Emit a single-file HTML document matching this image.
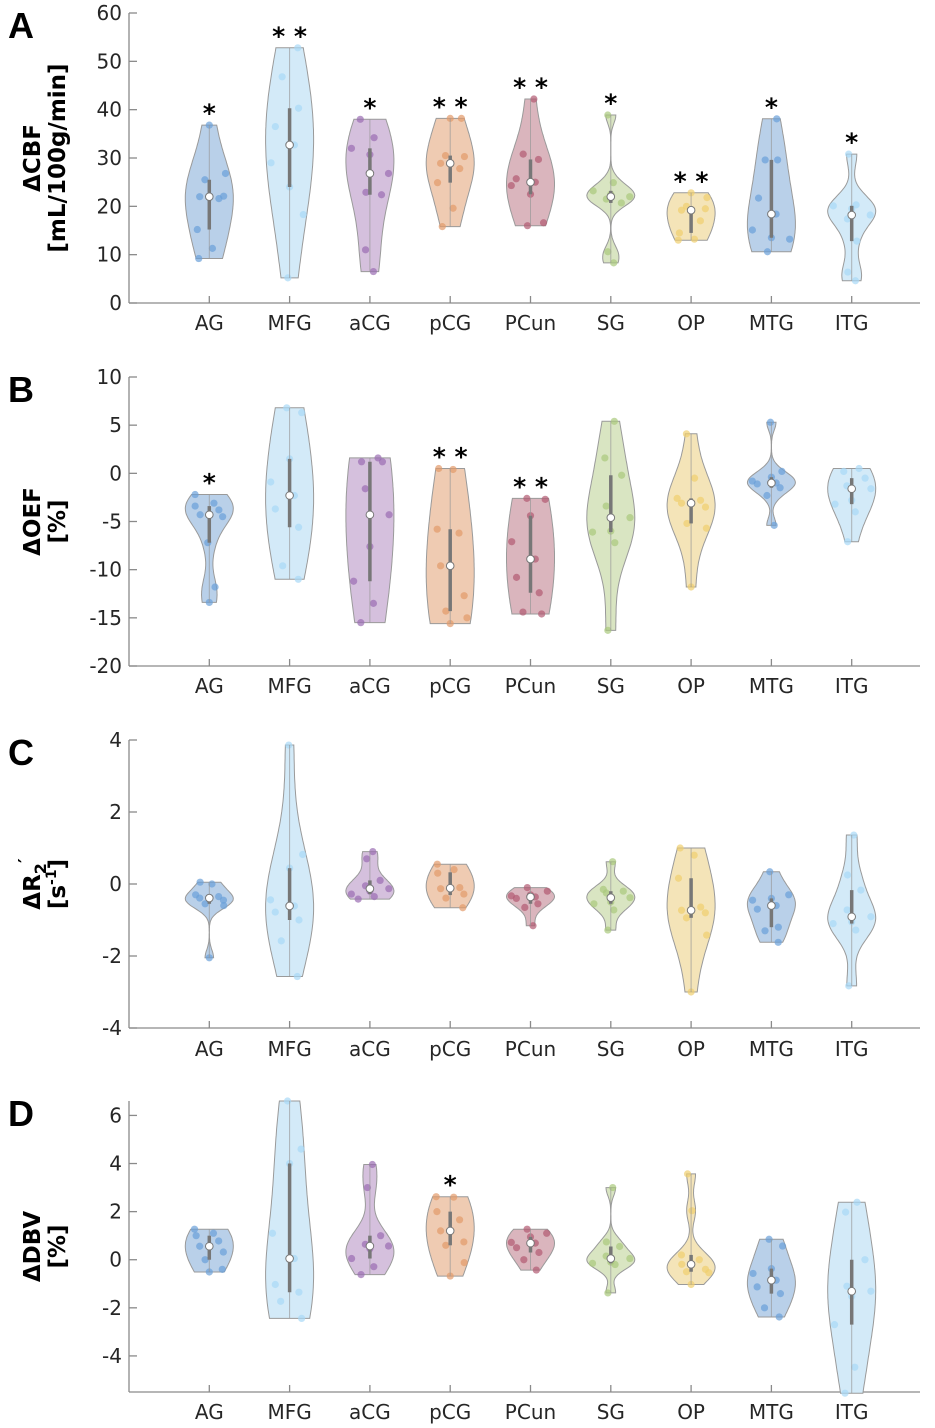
<!DOCTYPE html>
<html><head><meta charset="utf-8"><title>Violin plots</title>
<style>
html,body{margin:0;padding:0;background:#fff;}
svg{display:block;}
text{font-family:"DejaVu Sans","Liberation Sans",sans-serif;}
.tick{font-size:20px;fill:#262626;}
.plab{font-family:"Liberation Sans",sans-serif;font-weight:bold;font-size:36px;fill:#000;}
.ytitle{font-family:"DejaVu Sans","Liberation Sans",sans-serif;font-weight:bold;font-size:23px;fill:#000;}
.star{font-family:"DejaVu Sans",sans-serif;font-weight:bold;font-size:25px;fill:#000;}
</style></head>
<body>
<svg id="fig" width="935" height="1428" viewBox="0 0 935 1428" xmlns="http://www.w3.org/2000/svg"></svg>
<script>
// ---------- data ----------
const categories=["AG","MFG","aCG","pCG","PCun","SG","OP","MTG","ITG"];
const cbfValues=[
 [9.2,11.3,15.2,21.6,22,22.1,25.5,26.8,36.8],
 [5.2,18.3,24,29,32.7,36.5,40.3,46.8,52.8],
 [6.5,11,22.4,22.9,26.8,30.7,32,34.2,38],
 [15.8,19.6,24.9,27.8,28.9,30.3,30.5,38.2,38.2],
 [16,16.6,22.5,24.3,25,25.7,29.7,30.8,42.2],
 [8.3,10.6,20.7,21.5,22,22.5,23.2,24.9,38.9],
 [13,13.2,14.5,17,19.2,19.5,20,21.8,22.8],
 [10.6,13.2,13.5,15.1,18.4,21.7,29.6,29.6,38.1],
 [4.6,6.4,12.8,17.4,18.2,19.5,20.1,20.3,30.8]
];
const oefValues=[
 [-2.2,-3.1,-3.4,-3.8,-4.3,-4.5,-7.2,-11.8,-13.4],
 [6.8,6.3,1.5,-0.9,-2.3,-3.7,-5.6,-9.6,-11],
 [1.6,1.2,1.2,-1.6,-4.3,-7.6,-11.2,-13.5,-15.5],
 [0.5,0.4,-5.8,-6.2,-9.6,-12.7,-14.3,-15,-15.6],
 [-2.6,-2.7,-4.4,-7.1,-8.9,-10.8,-12.4,-14.4,-14.6],
 [5.4,1.6,-0.2,-3.4,-4.6,-6,-6.1,-7.2,-16.3],
 [4.1,-0.5,-2.6,-2.8,-3.1,-3.5,-5.2,-5.7,-11.8],
 [5.3,0.2,-0.4,-0.8,-1.0,-1.1,-1.5,-2.3,-5.4],
 [0.5,0.2,-0.5,-1.3,-1.6,-2.8,-3.2,-4,-7.1]
];
const r2Values=[
 [0.05,0,-0.3,-0.35,-0.39,-0.45,-0.55,-0.6,-2.05],
 [3.86,0.82,0.44,-0.44,-0.61,-0.78,-1,-1.58,-2.57],
 [0.9,0.7,0.1,-0.05,-0.13,-0.2,-0.28,-0.35,-0.42],
 [0.55,0.4,0.3,-0.1,-0.13,-0.28,-0.39,-0.66],
 [-0.1,-0.2,-0.3,-0.33,-0.36,-0.4,-0.55,-0.65,-1.16],
 [0.62,-0.15,-0.2,-0.25,-0.38,-0.5,-0.55,-0.72,-1.28],
 [1.0,0.8,0.16,-0.64,-0.73,-0.8,-0.94,-1.42,-3.0],
 [0.34,-0.3,-0.4,-0.45,-0.6,-0.7,-1.2,-1.3,-1.62],
 [1.36,0.25,-0.17,-0.72,-0.91,-1.05,-1.1,-1.28,-2.83]
];
const dbvValues=[
 [1.27,1.1,1.0,0.78,0.56,0.32,0,-0.4,-0.51],
 [6.6,4.6,4.0,1.1,0.05,-1.03,-1.35,-1.73,-2.44],
 [3.96,3.0,1.0,0.64,0.57,0.46,0.05,-0.29,-0.62],
 [2.62,2.6,2.0,1.66,1.2,0.74,0.6,-0.12,-0.68],
 [1.27,1.1,0.95,0.72,0.69,0.5,0.3,0,-0.43],
 [3.0,0.74,0.55,0.15,0.05,-0.1,-0.15,-0.2,-1.38],
 [3.57,2.04,0.2,0,-0.19,-0.4,-0.5,-0.54,-1.03],
 [0.85,0.57,-0.37,-0.57,-0.85,-1.13,-1.41,-2.0,-2.38],
 [2.39,1.98,0,-1.1,-1.31,-1.52,-2.7,-4.47,-5.55]
];
const sigCBF=[1,2,1,2,2,1,2,1,1];
const sigOEF=[1,0,0,2,2,0,0,0,0];
const sigR2=[0,0,0,0,0,0,0,0,0];
const sigDBV=[0,0,0,1,0,0,0,0,0];
const ticksCBF=[0,10,20,30,40,50,60];
const ticksOEF=[10,5,0,-5,-10,-15,-20];
const ticksR2=[4,2,0,-2,-4];
const ticksDBV=[6,4,2,0,-2,-4];

// ---------- styling ----------
const fills=["#b9d0e9","#d3eaf8","#d5c0dd","#efcbb2","#dab5bd","#d9e5c2","#f4e4b8","#b9d0e9","#d3eaf8"];
const dots=["#6a9fd9","#a8d8f6","#9a6cb2","#e39a6a","#b25a72","#a9c97c","#f0cf6e","#6a9fd9","#a8d8f6"];
const panels=[
 {name:"cbf",letter:"A",data:cbfValues,sig:sigCBF,ticks:ticksCBF,dom:[0,60],yTop:13,yBot:303,labY:330,t1:"ΔCBF",t2:"[mL/100g/min]"},
 {name:"oef",letter:"B",data:oefValues,sig:sigOEF,ticks:ticksOEF,dom:[-20,10],yTop:377,yBot:666,labY:693,t1:"ΔOEF",t2:"[%]"},
 {name:"r2",letter:"C",data:r2Values,sig:sigR2,ticks:ticksR2,dom:[-4,4],yTop:740,yBot:1028,labY:1056,t1:"ΔR",t2:"[s]"},
 {name:"dbv",letter:"D",data:dbvValues,sig:sigDBV,ticks:ticksDBV,dom:[-5.5,6.6],yTop:1101,yBot:1392,labY:1419,t1:"ΔDBV",t2:"[%]"}
];
const X0=129, X1=920, STEP=80.3;
const NS="http://www.w3.org/2000/svg";
const svg=document.getElementById("fig");
function mk(tag,attrs,parent){const e=document.createElementNS(NS,tag);for(const k in attrs)e.setAttribute(k,attrs[k]);(parent||svg).appendChild(e);return e;}
function xPos(i){return X0+(i+1)*STEP;}
function quant(s,p){const a=[...s].sort((x,y)=>x-y);const pos=(a.length-1)*p;const lo=Math.floor(pos),hi=Math.ceil(pos);return a[lo]+(a[hi]-a[lo])*(pos-lo);}

panels.forEach(P=>{
  const g=mk("g",{});
  
  
  const y=v=>P.yBot-(v-P.dom[0])/(P.dom[1]-P.dom[0])*(P.yBot-P.yTop);
  const pl=mk("text",{x:8,y:P.yTop+25,class:"plab"},g);pl.textContent=P.letter;
  
  
  const cy=(P.yTop+P.yBot)/2;
  const yt=mk("g",{transform:`translate(0,${cy}) rotate(-90)`},g);
  
  
  const l1=mk("text",{x:0,y:40,"text-anchor":"middle",class:"ytitle"},yt);
  if(P.name==="r2"){l1.innerHTML='ΔR<tspan font-size="16" dy="6">2</tspan><tspan font-size="18" dy="-15">′</tspan>';}
  else l1.textContent=P.t1;
  const l2=mk("text",{x:0,y:65,"text-anchor":"middle",class:"ytitle"},yt);
  if(P.name==="r2"){l2.innerHTML='[s<tspan font-size="14" dy="-9">-1</tspan><tspan dy="9">]</tspan>';}
  else l2.textContent=P.t2;
  const ax=mk("g",{stroke:"#8a8a8a","stroke-width":1.3,fill:"none"},g);
  
  
  mk("line",{x1:X0,y1:P.yTop,x2:X0,y2:P.yBot},ax);
  mk("line",{x1:X0,y1:P.yBot,x2:X1,y2:P.yBot},ax);
  P.ticks.forEach(t=>{
    const yy=y(t);
    mk("line",{x1:X0,y1:yy,x2:X0+8,y2:yy},ax);
    const tl=mk("text",{x:X0-7,y:yy+7,"text-anchor":"end",class:"tick"},g);tl.textContent=t;
    
    
  });
  categories.forEach((c,i)=>{
    const xx=xPos(i);
    mk("line",{x1:xx,y1:P.yBot,x2:xx,y2:P.yBot-7},ax);
    const cl=mk("text",{x:xx,y:P.labY,"text-anchor":"middle",class:"tick"},g);cl.textContent=c;
    
    
  });
  P.data.forEach((vals,i)=>{
    const vg=mk("g",{},g);
    
    
    const n=vals.length, mn=Math.min(...vals), mx=Math.max(...vals);
    const med=quant(vals,0.5), q1=quant(vals,0.25), q3=quant(vals,0.75);
    const sorted=[...vals].sort((a,b)=>a-b);
    const mad=quant(sorted.map(v=>Math.abs(v-med)),0.5);
    let sig=mad/0.6745; if(!(sig>0)) sig=(mx-mn)/4||1;
    const h=1.35*sig*Math.pow(4/(3*n),0.2);
    const N=70, prof=[];
    for(let k=0;k<=N;k++){const v=mn+(mx-mn)*k/N;let d=0;vals.forEach(p=>{const z=(v-p)/h;d+=Math.exp(-0.5*z*z);});prof.push([v,d]);}
    const dmax=Math.max(...prof.map(p=>p[1]));
    const W=24, xc=xPos(i);
    const wAt=v=>{const k=Math.round((v-mn)/((mx-mn)||1)*N);return prof[Math.max(0,Math.min(N,k))][1]/dmax*W;};
    let d="";
    prof.forEach((p,k)=>{d+=(k?"L":"M")+(xc+p[1]/dmax*W).toFixed(1)+","+y(p[0]).toFixed(1);});
    for(let k=N;k>=0;k--){const p=prof[k];d+="L"+(xc-p[1]/dmax*W).toFixed(1)+","+y(p[0]).toFixed(1);}
    d+="Z";
    const body=mk("path",{d:d,fill:fills[i],stroke:"#9a9a9a","stroke-width":1},vg);
    
    
    vals.forEach((v,k)=>{
      const off=(((k*5+i*3)%9)-4)/4*wAt(v)*0.8;
      const c=mk("circle",{cx:xc+off,cy:y(v),r:3.6,fill:dots[i],"fill-opacity":0.7},vg);
      
      
    });
    mk("line",{x1:xc,y1:y(mx),x2:xc,y2:y(mn),stroke:"#999","stroke-width":1,"stroke-opacity":0.7},vg);
    const box=mk("line",{x1:xc,y1:y(q3),x2:xc,y2:y(q1),stroke:"#777","stroke-width":3.5},vg);
    
    
    const md=mk("circle",{cx:xc,cy:y(med),r:3.8,fill:"#fff",stroke:"#777","stroke-width":1},vg);
    
    
    if(P.sig[i]>0){
      const st=mk("text",{x:xc,y:y(mx)-3,"text-anchor":"middle",class:"star"},vg);
      st.textContent=P.sig[i]===2?"* *":"*";
      
      
    }
  });
});
</script>
</body></html>
